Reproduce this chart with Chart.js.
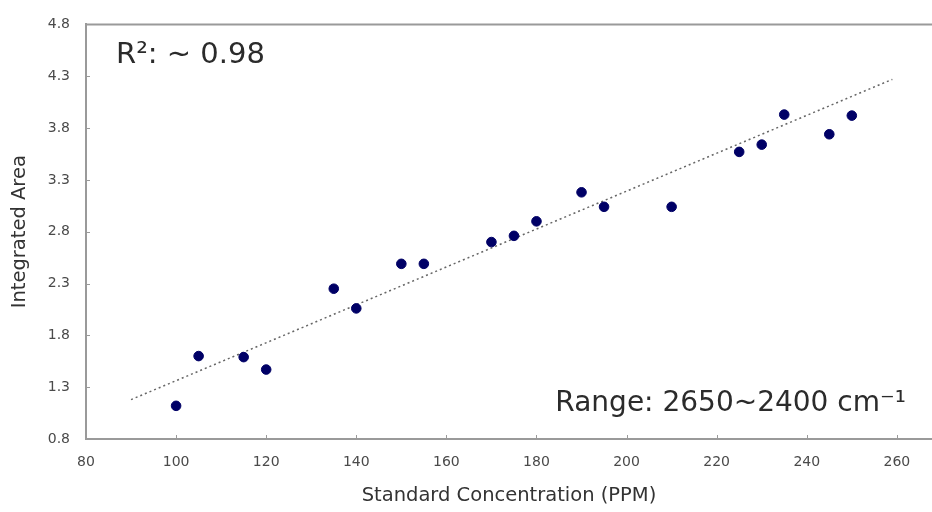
<!DOCTYPE html>
<html>
<head>
<meta charset="utf-8">
<script src="https://cdn.jsdelivr.net/npm/chart.js@4"></script>
<style>
  html, body { margin: 0; padding: 0; background: #fff; }
  #wrap { width: 932px; height: 512px; }
</style>
</head>
<body>
<div id="wrap"><canvas id="calChart" width="932" height="512"></canvas></div>
<script>
// Standard concentration (PPM) and integrated area readings
const concentration = [100, 105, 115, 120, 135, 140, 150, 155, 170, 175, 180, 190, 195, 210, 225, 230, 235, 245, 250];
const integratedArea = [1.12, 1.60, 1.59, 1.47, 2.25, 2.06, 2.49, 2.49, 2.70, 2.76, 2.90, 3.18, 3.04, 3.04, 3.57, 3.64, 3.93, 3.74, 3.92];

// Trendline end points
const trendX = [90, 259];
const trendY = [1.18, 4.27];

const xTicks = [80, 100, 120, 140, 160, 180, 200, 220, 240, 260];
const yTicks = [0.8, 1.3, 1.8, 2.3, 2.8, 3.3, 3.8, 4.3, 4.8];
const xMax = 267.8;

const axisColor = '#9a9a9a';
const labelColor = '#4a4a4a';
const fontFamily = '"DejaVu Sans", Verdana, sans-serif';

// Small inside tick marks, top border and the two text notes
const decorations = {
    id: 'decorations',
    afterDraw(chart) {
        const ctx = chart.ctx;
        const area = chart.chartArea;
        const xs = chart.scales.x;
        const ys = chart.scales.y;
        ctx.save();
        ctx.strokeStyle = axisColor;
        ctx.lineWidth = 2;
        ctx.beginPath();
        ctx.moveTo(area.left, area.top);
        ctx.lineTo(area.right, area.top);
        ctx.stroke();
        ctx.lineWidth = 1;
        xTicks.forEach(v => {
            const px = Math.round(xs.getPixelForValue(v)) + 0.5;
            ctx.beginPath();
            ctx.moveTo(px, area.bottom);
            ctx.lineTo(px, area.bottom - 4);
            ctx.stroke();
        });
        yTicks.forEach(v => {
            const py = Math.round(ys.getPixelForValue(v)) + 0.5;
            ctx.beginPath();
            ctx.moveTo(area.left, py);
            ctx.lineTo(area.left + 4, py);
            ctx.stroke();
        });

        ctx.fillStyle = '#2b2b2b';
        ctx.textBaseline = 'alphabetic';
        ctx.textAlign = 'left';
        ctx.font = '29px ' + fontFamily;
        ctx.fillText('R\u00B2: ~ 0.98', area.left + 30, area.top + 39);
        ctx.textAlign = 'right';
        ctx.font = '28px ' + fontFamily;
        ctx.fillText('Range: 2650~2400 cm\u207B\u00B9', area.left + 820, area.top + 387);
        ctx.restore();
    }
};

new Chart(document.getElementById('calChart').getContext('2d'), {
    type: 'scatter',
    data: {
        datasets: [
            {
                label: 'Trend',
                type: 'line',
                data: trendX.map((x, i) => ({ x: x, y: trendY[i] })),
                borderColor: '#666',
                borderWidth: 1.5,
                borderDash: [2, 3],
                pointRadius: 0,
                fill: false,
                order: 2
            },
            {
                label: 'Standards',
                data: concentration.map((x, i) => ({ x: x, y: integratedArea[i] })),
                backgroundColor: '#000066',
                borderColor: '#000066',
                borderWidth: 1,
                pointRadius: 4.8,
                order: 1
            }
        ]
    },
    options: {
        responsive: false,
        animation: false,
        layout: { autoPadding: false, padding: { top: 20, right: 0, bottom: 0, left: 0 } },
        plugins: {
            legend: { display: false },
            tooltip: { enabled: false }
        },
        scales: {
            x: {
                type: 'linear',
                min: 80,
                max: xMax,
                afterBuildTicks: scale => {
                    scale.ticks = xTicks.concat([xMax]).map(v => ({ value: v }));
                },
                afterFit: scale => {
                    // plot runs to the right edge of the picture
                    scale.height = 73;
                    scale.paddingRight = 0;
                    scale.paddingLeft = 0;
                },
                grid: { display: false, drawTicks: false },
                border: { color: axisColor, width: 2 },
                ticks: {
                    color: labelColor,
                    font: { family: fontFamily, size: 14 },
                    padding: 15,
                    maxRotation: 0,
                    callback: v => (xTicks.includes(v) ? String(v) : '')
                },
                title: {
                    display: true,
                    text: 'Standard Concentration (PPM)',
                    color: '#333',
                    font: { family: fontFamily, size: 19.5 },
                    padding: { top: 0, bottom: 4 }
                }
            },
            y: {
                type: 'linear',
                min: 0.8,
                max: 4.8,
                afterBuildTicks: scale => {
                    scale.ticks = yTicks.map(v => ({ value: v }));
                },
                afterFit: scale => { scale.width = 86; },
                grid: { display: false, drawTicks: false },
                border: { color: axisColor, width: 2 },
                ticks: {
                    color: labelColor,
                    font: { family: fontFamily, size: 14 },
                    padding: 16,
                    callback: v => Number(v).toFixed(1)
                },
                title: {
                    display: true,
                    text: 'Integrated Area',
                    color: '#333',
                    font: { family: fontFamily, size: 19.5 },
                    padding: { top: 8, bottom: 0 }
                }
            }
        }
    },
    plugins: [decorations]
});
</script>
</body>
</html>
